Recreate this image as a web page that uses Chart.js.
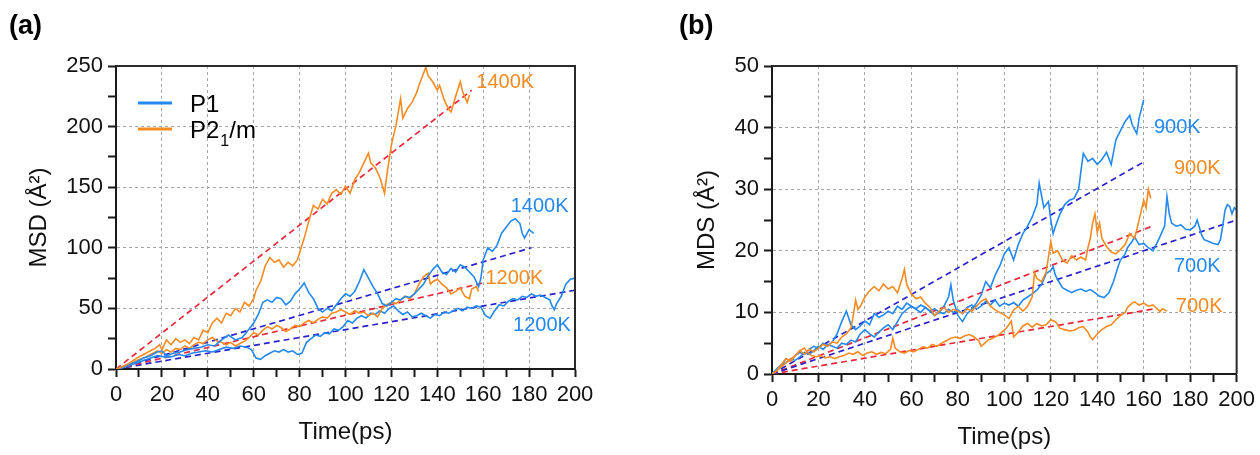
<!DOCTYPE html>
<html><head><meta charset="utf-8">
<script src="https://cdn.jsdelivr.net/npm/chart.js@4.4.0/dist/chart.umd.min.js"></script>
<style>
html,body{margin:0;padding:0;background:#fff;width:1260px;height:455px;overflow:hidden}
#wa{position:absolute;left:0;top:0;width:630px;height:455px}
#wb{position:absolute;left:630px;top:0;width:630px;height:455px}
</style></head><body>
<div id="wa"><canvas id="ca" width="630" height="455"></canvas></div>
<div id="wb"><canvas id="cb" width="630" height="455"></canvas></div>
<script>
// ---------- Tick labels ----------
const xTickLabels = [0,20,40,60,80,100,120,140,160,180,200];
const aYTickLabels = [0,50,100,150,200,250];
const bYTickLabels = [0,10,20,30,40,50];

// ---------- Panel (a): MSD, [time(ps), MSD(Å²)] ----------
const a_P21m_1400K = [[0,0],[3,2],[6,5],[9,9],[12,12],[15,15],[17,17],[19,20],[20,16],[22,24],[24,20],[26,25],[28,22],[30,24],[32,21],[34,26],[36,24],[38,32],[40,30],[42,38],[44,42],[46,38],[48,46],[50,44],[52,50],[54,47],[56,55],[58,52],[60,58],[61,65],[63,72],[65,85],[67,92],[69,88],[71,90],[73,84],[75,88],[77,85],[79,90],[80,96],[82,108],[84,122],[86,135],[88,132],[90,140],[92,136],[94,145],[96,148],[98,144],[100,151],[102,145],[104,156],[106,162],[108,170],[110,178],[111,170],[113,166],[115,158],[117,145],[118,160],[120,185],[122,201],[124,223],[125,207],[127,215],[129,220],[131,228],[132,234],[134,244],[135,249],[136,242],[138,237],[140,230],[141,234],[143,222],[145,214],[146,212],[148,225],[150,237],[151,229],[153,220],[154,226]];
const a_P1_1400K = [[0,0],[3,2],[6,4],[9,6],[12,9],[15,11],[18,14],[20,15],[22,11],[25,13],[28,14],[31,16],[34,17],[37,18],[40,20],[43,19],[46,24],[49,28],[52,24],[55,26],[58,33],[60,38],[62,45],[64,55],[66,57],[68,55],[70,59],[72,58],[74,53],[76,56],[78,62],[80,66],[82,71],[84,63],[86,58],[88,50],[90,47],[92,50],[94,48],[96,53],[98,58],[100,62],[102,60],[104,64],[106,72],[108,82],[110,75],[112,68],[114,62],[116,54],[118,52],[120,55],[122,58],[124,57],[126,60],[128,59],[130,62],[132,66],[134,70],[136,77],[138,82],[140,86],[142,80],[144,78],[146,83],[148,80],[150,86],[152,84],[154,80],[156,76],[158,68],[159,75],[160,90],[162,100],[164,97],[166,102],[168,112],[170,117],[172,122],[174,124],[176,120],[177,112],[178,108],[180,115],[182,112]];
const a_P21m_1200K = [[0,0],[3,2],[6,4],[9,7],[12,9],[15,12],[18,15],[20,13],[22,16],[24,14],[26,17],[28,16],[30,19],[32,17],[34,20],[36,22],[38,21],[40,24],[42,26],[44,23],[46,22],[48,20],[50,22],[52,19],[54,21],[56,23],[58,26],[60,30],[62,28],[64,32],[66,35],[68,33],[70,36],[72,34],[74,31],[76,33],[78,36],[80,35],[82,38],[84,40],[86,38],[88,41],[90,43],[92,42],[94,46],[96,47],[98,49],[100,47],[102,45],[104,48],[106,46],[108,47],[110,44],[112,46],[114,43],[116,50],[118,53],[120,55],[122,54],[124,57],[126,60],[128,58],[130,62],[132,70],[134,76],[136,79],[137,70],[138,72],[140,74],[142,70],[144,67],[146,62],[148,64],[150,67],[152,60],[154,58],[155,66],[157,68],[158,64]];
const a_P1_1200K = [[0,0],[3,1],[6,3],[9,5],[12,7],[15,9],[18,11],[21,10],[24,10],[27,12],[30,11],[33,13],[36,14],[39,15],[42,14],[45,16],[48,18],[51,17],[54,19],[57,18],[59,16],[61,9],[63,8],[65,11],[67,13],[69,15],[71,14],[73,16],[75,14],[77,15],[79,12],[81,13],[83,22],[85,25],[87,28],[89,27],[91,30],[93,29],[95,33],[97,32],[99,35],[101,40],[103,38],[105,42],[107,44],[109,42],[111,46],[113,45],[115,48],[117,46],[119,50],[121,52],[123,48],[125,45],[127,47],[129,43],[131,44],[133,46],[135,44],[137,42],[139,45],[141,44],[143,47],[145,46],[147,48],[149,50],[151,48],[153,51],[155,50],[157,52],[159,51],[161,44],[163,42],[165,48],[167,53],[169,52],[171,56],[173,58],[175,57],[177,60],[179,59],[181,62],[183,60],[185,61],[187,59],[189,57],[190,52],[191,49],[192,54],[194,60],[196,70],[198,74],[200,75]];
const a_fit_P21m_1400K = [[0,0],[155,230]];
const a_fit_P1_1400K = [[0,0],[181,100]];
const a_fit_P21m_1200K = [[0,0],[160,71]];
const a_fit_P1_1200K = [[0,0],[200,65]];

// ---------- Panel (b): MDS, [time(ps), MDS(Å²)] ----------
const b_P1_900K = [[0,0],[2,0.6],[4,1.2],[6,2.5],[8,2.0],[10,3.0],[12,3.5],[14,3.2],[16,4.0],[18,4.5],[20,4.2],[22,5.0],[24,4.6],[26,5.2],[28,6.5],[30,8.5],[32,10.2],[34,8.0],[36,7.2],[38,7.8],[40,8.6],[42,8.0],[44,9.8],[46,9.2],[48,9.6],[50,10.2],[52,9.8],[54,11.0],[56,10.5],[58,11.5],[60,11.0],[62,10.6],[64,11.2],[66,10.8],[68,10.2],[70,10.6],[72,10.0],[74,11.0],[76,12.5],[77,14.5],[78,12.0],[80,9.5],[82,8.5],[84,9.8],[86,10.5],[88,11.5],[90,12.8],[92,15.0],[94,14.0],[96,16.0],[98,17.5],[100,19.5],[102,20.5],[104,18.5],[106,21.0],[108,22.8],[110,24.0],[112,25.5],[114,27.5],[115,31.0],[116,29.0],[117,27.0],[119,28.0],[120,25.0],[121,22.8],[122,24.0],[124,26.0],[126,27.5],[128,28.2],[130,28.5],[132,30.0],[133,33.0],[134,35.8],[136,34.5],[138,35.0],[140,34.0],[142,34.8],[144,36.0],[146,34.0],[148,38.0],[150,39.5],[152,41.0],[154,42.0],[155,40.5],[157,39.0],[158,41.5],[159,43.0],[160,44.5]];
const b_P1_700K = [[0,0],[2,0.8],[4,1.5],[6,1.8],[8,2.5],[10,2.2],[12,2.8],[14,3.5],[16,3.2],[18,3.8],[20,4.5],[22,4.0],[24,4.8],[26,4.5],[28,4.2],[30,5.0],[32,4.8],[34,5.5],[36,5.2],[38,6.5],[40,7.2],[42,6.5],[44,6.0],[46,6.8],[48,7.5],[50,8.0],[52,7.2],[54,8.5],[56,9.8],[58,10.5],[60,11.0],[62,10.5],[64,10.0],[66,10.8],[68,10.2],[70,9.5],[72,10.0],[74,9.8],[76,10.5],[78,10.0],[80,10.4],[82,9.8],[84,10.8],[86,11.2],[88,10.5],[90,11.0],[92,11.8],[94,11.2],[96,12.0],[98,11.0],[100,11.5],[102,11.2],[104,11.6],[106,11.0],[108,12.0],[110,12.5],[112,13.0],[114,13.6],[116,14.5],[118,16.3],[120,16.8],[121,17.4],[122,16.0],[123,15.3],[125,14.0],[127,13.6],[129,13.2],[131,13.6],[133,13.8],[135,13.4],[137,13.7],[139,13.2],[141,12.6],[143,12.4],[145,13.2],[147,15.0],[149,17.5],[150,18.5],[152,19.5],[153,20.5],[155,21.5],[156,22.3],[158,21.0],[160,21.2],[162,20.5],[164,20.0],[166,21.5],[167,22.3],[169,24.0],[170,28.8],[171,26.0],[172,24.5],[174,24.0],[176,24.2],[178,23.5],[180,23.4],[182,24.0],[183,25.0],[185,22.5],[186,21.8],[188,21.5],[190,21.2],[192,21.0],[193,21.8],[194,24.0],[195,26.6],[196,27.5],[197,27.2],[198,26.0],[199,27.0],[200,26.6]];
const b_P21m_900K = [[0,0],[2,0.5],[4,1.5],[6,2.5],[8,2.0],[10,3.0],[12,3.8],[14,3.2],[16,4.0],[18,3.6],[20,4.2],[22,4.8],[24,4.5],[26,5.2],[28,5.0],[30,6.0],[32,6.5],[34,7.5],[35,9.5],[36,12.0],[37,10.5],[38,11.0],[40,12.5],[42,13.5],[44,14.2],[46,13.5],[48,14.6],[50,13.8],[52,14.2],[54,13.2],[56,15.5],[57,17.0],[58,14.5],[60,13.0],[62,12.2],[64,12.5],[66,11.5],[68,10.8],[70,9.5],[72,10.2],[74,10.8],[76,10.0],[78,10.5],[80,10.2],[82,9.8],[84,10.6],[86,10.2],[88,11.0],[90,11.8],[92,12.2],[94,11.0],[96,10.4],[98,10.0],[100,9.6],[102,9.0],[104,10.4],[106,11.0],[108,10.2],[110,11.0],[112,12.5],[113,16.5],[114,15.5],[116,15.0],[118,16.5],[120,21.5],[121,19.6],[123,20.0],[125,18.5],[127,18.0],[129,19.2],[131,18.5],[133,19.0],[135,18.5],[136,20.5],[137,22.0],[138,24.5],[139,26.0],[140,23.0],[141,24.5],[142,22.0],[144,20.7],[146,19.8],[148,19.5],[150,20.2],[152,21.0],[154,22.8],[156,22.0],[157,23.4],[159,26.6],[160,28.2],[161,27.0],[162,30.0],[163,28.5]];
const b_P21m_700K = [[0,0],[2,0.5],[4,1.2],[6,1.8],[8,2.4],[10,3.0],[12,3.8],[14,4.2],[15,3.6],[17,3.0],[19,2.8],[21,3.0],[23,2.6],[25,2.8],[27,2.5],[29,2.8],[31,3.0],[33,3.4],[35,3.2],[37,3.6],[39,3.0],[41,3.4],[43,3.6],[45,3.2],[47,3.5],[49,3.3],[51,4.0],[52,5.8],[53,4.2],[55,3.6],[57,3.4],[59,3.8],[61,3.6],[63,4.0],[65,4.4],[67,4.2],[69,4.8],[71,4.5],[73,5.0],[75,5.4],[77,5.8],[79,6.0],[81,5.8],[83,6.2],[85,6.4],[87,6.0],[89,5.4],[90,4.5],[91,4.8],[93,5.5],[95,5.8],[97,6.2],[99,6.8],[101,7.5],[103,8.6],[104,6.0],[106,6.8],[108,7.8],[110,8.2],[112,7.6],[114,8.2],[116,7.8],[118,8.0],[120,8.8],[122,8.5],[124,7.4],[126,7.2],[128,7.0],[130,7.1],[132,7.5],[134,7.7],[136,6.8],[137,6.0],[138,5.6],[140,6.5],[142,7.2],[144,7.7],[146,8.0],[148,8.8],[150,9.5],[152,10.0],[153,10.8],[155,11.5],[156,11.7],[158,11.2],[160,11.5],[162,11.0],[164,11.2],[166,10.5],[167,10.1],[168,10.6],[170,10.2]];
const b_fit_P1_900K = [[0,0],[160.8,34.6]];
const b_fit_P1_700K = [[0,0],[200,25]];
const b_fit_P21m_900K = [[0,0],[163,23.9]];
const b_fit_P21m_700K = [[0,0],[165,10.6]];

// ---------- styles ----------
const FONT = "'Liberation Sans', Arial, Helvetica, sans-serif";
const BLUE = '#2389f0';
const ORANGE = '#f58b22';
const FIT_BLUE = '#2b22cc';
const FIT_RED = '#e8283a';

const toXY = arr => arr.map(p => ({x: p[0], y: p[1]}));
const noisy = (label, arr, color) => ({label, data: toXY(arr), borderColor: color, borderWidth: 1.6, pointRadius: 0, fill: false, tension: 0});
const fit = (label, arr, color) => ({label, data: toXY(arr), borderColor: color, borderWidth: 1.7, borderDash: [6,4], pointRadius: 0, fill: false, tension: 0});

function overlayPlugin(cfg) {
  return {
    id: 'overlay' + cfg.letter,
    afterDraw(chart) {
      const ctx = chart.ctx;
      const {left, right, top, bottom} = chart.chartArea;
      ctx.save();
      ctx.strokeStyle = '#2b2b2b';
      ctx.lineWidth = 2;
      ctx.beginPath();
      ctx.moveTo(left, top); ctx.lineTo(right, top); ctx.lineTo(right, bottom);
      ctx.stroke();
      // panel letter
      ctx.fillStyle = '#000';
      ctx.font = 'bold 27px ' + FONT;
      ctx.textBaseline = 'alphabetic';
      ctx.textAlign = 'left';
      ctx.fillText(cfg.letter, cfg.letterX, 34);
      // curve labels
      const xs = chart.scales.x, ys = chart.scales.y;
      ctx.font = '20px ' + FONT;
      ctx.textBaseline = 'middle';
      cfg.labels.forEach(l => {
        ctx.fillStyle = l.color;
        ctx.fillText(l.text, xs.getPixelForValue(l.t), ys.getPixelForValue(l.v));
      });
      // legend
      if (cfg.legend) {
        const lx = left + 22, tx = left + 74;
        ctx.lineWidth = 3;
        ctx.strokeStyle = BLUE;
        ctx.beginPath(); ctx.moveTo(lx, top + 37); ctx.lineTo(lx + 34, top + 37); ctx.stroke();
        ctx.strokeStyle = ORANGE;
        ctx.beginPath(); ctx.moveTo(lx, top + 63); ctx.lineTo(lx + 34, top + 63); ctx.stroke();
        ctx.fillStyle = '#000';
        ctx.textBaseline = 'alphabetic';
        ctx.font = '24px ' + FONT;
        ctx.fillText('P1', tx, top + 46);
        ctx.fillText('P2', tx, top + 72);
        let w = ctx.measureText('P2').width;
        ctx.font = '16px ' + FONT;
        ctx.fillText('1', tx + w + 1, top + 80);
        const w1 = ctx.measureText('1').width;
        ctx.font = '24px ' + FONT;
        ctx.fillText('/m', tx + w + w1 + 1, top + 72);
      }
      ctx.restore();
    }
  };
}

function makeChart(id, cfg) {
  const tickFont = {family: FONT, size: 22};
  const titleFont = {family: FONT, size: 24};
  return new Chart(document.getElementById(id), {
    type: 'line',
    data: {datasets: cfg.datasets},
    options: {
      responsive: false,
      animation: false,
      devicePixelRatio: 1,
      layout: {padding: {left: 0, top: 66, right: cfg.padRight, bottom: 0}},
      plugins: {legend: {display: false}, tooltip: {enabled: false}},
      elements: {point: {radius: 0}},
      scales: {
        x: {
          type: 'linear', min: 0, max: 200,
          afterFit: s => { s.height = cfg.xHeight; },
          ticks: {stepSize: 10, autoSkip: false, maxRotation: 0, color: '#111', font: tickFont, padding: 5,
                  callback: v => xTickLabels.includes(v) ? String(v) : ''},
          grid: {color: c => (c.tick && xTickLabels.includes(c.tick.value)) ? '#a6a6a6' : 'rgba(0,0,0,0)',
                 lineWidth: 1, tickColor: '#1a1a1a', tickLength: 8, tickWidth: 2},
          border: {display: true, color: '#1a1a1a', width: 2, dash: [3,3]},
          title: {display: true, text: 'Time(ps)', color: '#111', font: titleFont, padding: {top: 0, bottom: cfg.xTitlePad}}
        },
        y: {
          type: 'linear', min: 0, max: cfg.yMax,
          afterFit: s => { s.width = cfg.yWidth; },
          ticks: {stepSize: cfg.yStep, autoSkip: false, color: '#111', font: tickFont, padding: 5,
                  callback: v => cfg.yLabels.includes(v) ? String(v) : ''},
          grid: {color: c => (c.tick && cfg.yLabels.includes(c.tick.value)) ? '#a6a6a6' : 'rgba(0,0,0,0)',
                 lineWidth: 1, tickColor: '#1a1a1a', tickLength: 8, tickWidth: 2},
          border: {display: true, color: '#1a1a1a', width: 2, dash: [3,3]},
          title: {display: true, text: cfg.yTitle, color: '#111', font: titleFont, padding: {top: cfg.yTitlePad, bottom: 0}}
        }
      }
    },
    plugins: [overlayPlugin(cfg)]
  });
}

makeChart('ca', {
  letter: '(a)', letterX: 9, legend: true,
  padRight: 55, xHeight: 86, yWidth: 116, yMax: 250, yStep: 25, yLabels: aYTickLabels,
  yTitle: 'MSD (Å²)', yTitlePad: 25, xTitlePad: 8,
  datasets: [
    noisy('P2₁/m 1400K', a_P21m_1400K, ORANGE),
    noisy('P1 1400K', a_P1_1400K, BLUE),
    noisy('P2₁/m 1200K', a_P21m_1200K, ORANGE),
    noisy('P1 1200K', a_P1_1200K, BLUE),
    fit('fit P2₁/m 1400K', a_fit_P21m_1400K, FIT_RED),
    fit('fit P1 1400K', a_fit_P1_1400K, FIT_BLUE),
    fit('fit P2₁/m 1200K', a_fit_P21m_1200K, FIT_RED),
    fit('fit P1 1200K', a_fit_P1_1200K, FIT_BLUE)
  ],
  labels: [
    {text: '1400K', t: 157, v: 236, color: ORANGE},
    {text: '1400K', t: 172, v: 134, color: BLUE},
    {text: '1200K', t: 161, v: 75, color: ORANGE},
    {text: '1200K', t: 173, v: 36, color: BLUE}
  ]
});

makeChart('cb', {
  letter: '(b)', letterX: 49, legend: false,
  padRight: 22, xHeight: 81, yWidth: 142, yMax: 50, yStep: 5, yLabels: bYTickLabels,
  yTitle: 'MDS (Å²)', yTitlePad: 63, xTitlePad: 3,
  datasets: [
    noisy('P2₁/m 900K', b_P21m_900K, ORANGE),
    noisy('P2₁/m 700K', b_P21m_700K, ORANGE),
    noisy('P1 900K', b_P1_900K, BLUE),
    noisy('P1 700K', b_P1_700K, BLUE),
    fit('fit P1 900K', b_fit_P1_900K, FIT_BLUE),
    fit('fit P1 700K', b_fit_P1_700K, FIT_BLUE),
    fit('fit P2₁/m 900K', b_fit_P21m_900K, FIT_RED),
    fit('fit P2₁/m 700K', b_fit_P21m_700K, FIT_RED)
  ],
  labels: [
    {text: '900K', t: 164.4, v: 40, color: BLUE},
    {text: '900K', t: 173, v: 33.3, color: ORANGE},
    {text: '700K', t: 173, v: 17.4, color: BLUE},
    {text: '700K', t: 173.8, v: 10.9, color: ORANGE}
  ]
});
</script>
</body></html>
